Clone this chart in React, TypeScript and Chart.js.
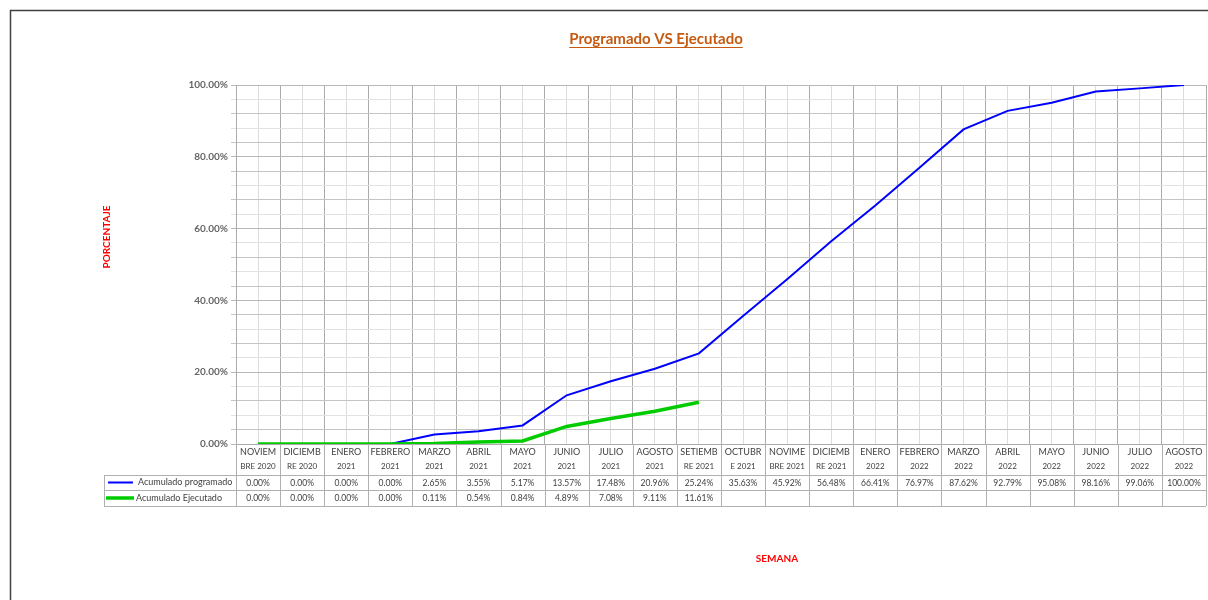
import React, { useEffect, useRef } from "react";
import { Chart, registerables } from "chart.js";

Chart.register(...registerables);

const monthLabels: string[][] = [
  ["NOVIEM", "BRE 2020"], ["DICIEMB", "RE 2020"], ["ENERO", "2021"], ["FEBRERO", "2021"],
  ["MARZO", "2021"], ["ABRIL", "2021"], ["MAYO", "2021"], ["JUNIO", "2021"],
  ["JULIO", "2021"], ["AGOSTO", "2021"], ["SETIEMB", "RE 2021"], ["OCTUBR", "E 2021"],
  ["NOVIME", "BRE 2021"], ["DICIEMB", "RE 2021"], ["ENERO", "2022"], ["FEBRERO", "2022"],
  ["MARZO", "2022"], ["ABRIL", "2022"], ["MAYO", "2022"], ["JUNIO", "2022"],
  ["JULIO", "2022"], ["AGOSTO", "2022"],
];

const programado: number[] = [
  0, 0, 0, 0, 2.65, 3.55, 5.17, 13.57, 17.48, 20.96, 25.24, 35.63,
  45.92, 56.48, 66.41, 76.97, 87.62, 92.79, 95.08, 98.16, 99.06, 100,
];

const ejecutado: number[] = [0, 0, 0, 0, 0.11, 0.54, 0.84, 4.89, 7.08, 9.11, 11.61];

const seriesNames: string[] = ["Acumulado programado", "Acumulado Ejecutado"];
const titleText = "Programado VS Ejecutado";
const yTitle = "PORCENTAJE";
const xTitle = "SEMANA";

const FONT = "Lato, 'Noto Sans', sans-serif";

const tablePlugin = {
  id: "tablePlugin",
  afterDraw(chart: any) {
    const ctx: CanvasRenderingContext2D = chart.ctx;
    const xs = chart.scales.x;
    const area = chart.chartArea;
    const n = monthLabels.length;
    const w = xs.getPixelForValue(1) - xs.getPixelForValue(0);
    const y0 = area.bottom;
    const y1 = y0 + 31;
    const y2 = y1 + 15;
    const y3 = y2 + 16;
    const legLeft = 104;
    ctx.save();

    // frame
    ctx.strokeStyle = "#404040";
    ctx.lineWidth = 1.5;
    ctx.beginPath();
    ctx.moveTo(10.5, 600);
    ctx.lineTo(10.5, 10.5);
    ctx.lineTo(1208, 10.5);
    ctx.stroke();

    // table lines
    ctx.strokeStyle = "#b0b0b0";
    ctx.lineWidth = 1;
    ctx.beginPath();
    for (let i = 0; i <= n; i++) {
      const bx = Math.round(xs.getPixelForValue(0) - w / 2 + i * w) + 0.5;
      ctx.moveTo(bx, y0);
      ctx.lineTo(bx, y3);
    }
    [y1, y2, y3].forEach((yy) => {
      ctx.moveTo(legLeft, yy + 0.5);
      ctx.lineTo(area.right, yy + 0.5);
    });
    ctx.moveTo(legLeft + 0.5, y1);
    ctx.lineTo(legLeft + 0.5, y3);
    ctx.stroke();

    // category labels
    ctx.fillStyle = "#404040";
    ctx.textAlign = "center";
    ctx.textBaseline = "middle";
    for (let i = 0; i < n; i++) {
      const cx = xs.getPixelForValue(i);
      ctx.font = `9px ${FONT}`;
      ctx.fillText(monthLabels[i][0], cx, y0 + 8);
      ctx.font = `8px ${FONT}`;
      ctx.fillText(monthLabels[i][1], cx, y0 + 22);
    }
    // values
    ctx.font = `8.5px ${FONT}`;
    for (let i = 0; i < programado.length; i++) {
      ctx.fillText(programado[i].toFixed(2) + "%", xs.getPixelForValue(i), (y1 + y2) / 2 + 0.5);
    }
    for (let i = 0; i < ejecutado.length; i++) {
      ctx.fillText(ejecutado[i].toFixed(2) + "%", xs.getPixelForValue(i), (y2 + y3) / 2 + 0.5);
    }
    // legend keys
    ctx.lineCap = "butt";
    ctx.strokeStyle = "#0000ff";
    ctx.lineWidth = 2;
    ctx.beginPath();
    ctx.moveTo(108, (y1 + y2) / 2);
    ctx.lineTo(133, (y1 + y2) / 2);
    ctx.stroke();
    ctx.strokeStyle = "#00cc00";
    ctx.lineWidth = 3.5;
    ctx.beginPath();
    ctx.moveTo(106, (y2 + y3) / 2);
    ctx.lineTo(134, (y2 + y3) / 2);
    ctx.stroke();
    ctx.textAlign = "left";
    ctx.font = `9px ${FONT}`;
    ctx.fillStyle = "#404040";
    ctx.fillText(seriesNames[0], 138, (y1 + y2) / 2);
    ctx.fillText(seriesNames[1], 136, (y2 + y3) / 2);

    // title
    ctx.textAlign = "center";
    ctx.textBaseline = "alphabetic";
    ctx.font = `bold 15px ${FONT}`;
    ctx.fillStyle = "#C55A11";
    const tx = 656;
    ctx.fillText(titleText, tx, 44);
    const tw = ctx.measureText(titleText).width;
    ctx.strokeStyle = "#C55A11";
    ctx.lineWidth = 1.2;
    ctx.beginPath();
    ctx.moveTo(tx - tw / 2, 47.5);
    ctx.lineTo(tx + tw / 2, 47.5);
    ctx.stroke();

    // axis titles
    ctx.fillStyle = "#ff0000";
    ctx.font = `bold 10px ${FONT}`;
    ctx.textBaseline = "middle";
    ctx.fillText(xTitle, 777, 559);
    ctx.save();
    ctx.translate(107, 237);
    ctx.rotate(-Math.PI / 2);
    ctx.fillText(yTitle, 0, 0);
    ctx.restore();

    ctx.restore();
  },
};

export default function App() {
  const ref = useRef<HTMLCanvasElement | null>(null);
  useEffect(() => {
    document.body.style.margin = "0";
    if (!ref.current) return;
    const labels = monthLabels.map((l) => l.join(" "));
    const chart = new Chart(ref.current, {
      type: "line",
      data: {
        labels,
        datasets: [
          {
            label: seriesNames[1],
            data: ejecutado,
            borderColor: "#00cc00",
            backgroundColor: "#00cc00",
            borderWidth: 3.5,
            pointRadius: 0,
            tension: 0,
            order: 0,
          },
          {
            label: seriesNames[0],
            data: programado,
            borderColor: "#0000ff",
            backgroundColor: "#0000ff",
            borderWidth: 2,
            pointRadius: 0,
            tension: 0,
            order: 1,
          },
        ],
      },
      options: {
        animation: false,
        responsive: false,
        layout: { padding: { left: 136, right: 2, top: 85, bottom: 156 } },
        plugins: { legend: { display: false }, tooltip: { enabled: false }, title: { display: false } },
        scales: {
          x2: {
            type: "category",
            axis: "x",
            position: "bottom",
            labels,
            offset: true,
            grid: { offset: false, color: "#dcdcdc", drawTicks: false },
            border: { display: false },
            ticks: { display: false },
            afterFit: (s: any) => { s.height = 0; },
          } as any,
          x: {
            type: "category",
            offset: true,
            grid: { offset: true, color: "#ababab", drawTicks: false },
            border: { display: true, color: "#ababab" },
            ticks: { display: false },
            afterFit: (s: any) => { s.height = 0; },
          } as any,
          y: {
            min: 0,
            max: 100,
            grid: {
              color: (c: any) => {
                const v = c.tick ? c.tick.value : 0;
                if (v % 20 === 0) return "#b8b8b8";
                return ((100 - v) / 4) % 2 === 0 ? "#c4c4c4" : "#e2e2e2";
              },
              tickLength: 5,
            },
            border: { display: true, color: "#ababab" },
            ticks: {
              stepSize: 4,
              autoSkip: false,
              padding: 3,
              color: "#666666",
              font: { family: FONT, size: 10, weight: "bold" },
              callback: (v: any) => (Number(v) % 20 === 0 ? Number(v).toFixed(2) + "%" : ""),
            },
            afterFit: (s: any) => { s.width = 100; },
          } as any,
        },
      },
      plugins: [tablePlugin],
    });
    return () => chart.destroy();
  }, []);
  return (
    <div style={{ width: 1208, height: 600, background: "#fff" }}>
      <canvas ref={ref} width={1208} height={600} style={{ display: "block" }} />
    </div>
  );
}
